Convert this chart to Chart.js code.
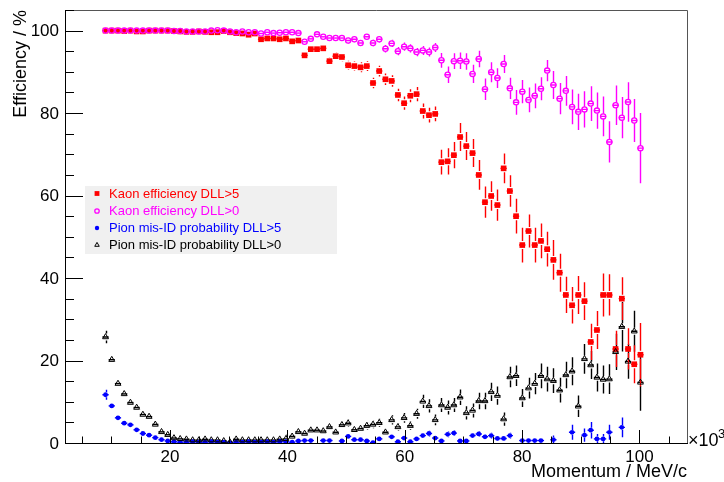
<!DOCTYPE html>
<html>
<head>
<meta charset="utf-8">
<script src="https://cdn.jsdelivr.net/npm/chart.js@4.4.0/dist/chart.umd.min.js"></script>
<style>
  html, body { margin: 0; padding: 0; background: #fff; }
  #wrap { width: 724px; height: 482px; position: relative; }
</style>
</head>
<body>
<div id="wrap"><canvas id="c" width="724" height="482"></canvas></div>
<script>
/* ── DATA ─────────────────────────────────────────────── */
// momentum bins (x 10^3 MeV/c): first bin centre and width
const binFirst = 9.01;
const binWidth = 1.06;

const kaonEffDLL5 = [
  100, 100, 100, 99.9, 100, 99.8, 99.8, 100, 100, 100,
  100, 99.9, 99.8, 99.7, 99.7, 99.8, 99.7, 99.6, 99.6, 99.9,
  99.6, 99.4, 99.3, 99.0, 99.3, 97.9, 98.1, 98.1, 97.9, 98.1,
  97.4, 97.6, 94.0, 95.5, 95.5, 95.7, 92.6, 93.8, 93.6, 91.6,
  91.4, 91.1, 91.4, 87.3, 90.2, 88.2, 87.8, 84.4, 82.4, 84.2,
  84.6, 80.5, 79.5, 79.8, 68.1, 68.3, 69.8, 74.2, 72.0, 70.3,
  65.0, 58.4, 59.9, 57.7, 66.6, 61.1, 55.0, 48.0, 51.4, 48.0,
  49.0, 47.0, 44.4, 41.3, 35.9, 33.4, 35.9, 34.4, 24.5, 27.4,
  35.9, 35.9, 22.8, 35.0, 22.8, 19.1, 21.4
];
const kaonErrDLL5 = [
  0.1, 0.1, 0.1, 0.1, 0.1, 0.1, 0.1, 0.1, 0.1, 0.1,
  0.1, 0.1, 0.1, 0.1, 0.1, 0.1, 0.1, 0.1, 0.1, 0.1,
  0.1, 0.1, 0.1, 0.1, 0.1, 0.3, 0.3, 0.3, 0.3, 0.3,
  0.4, 0.4, 0.8, 0.8, 0.8, 0.8, 1.0, 1.0, 1.0, 1.1,
  1.1, 1.2, 1.2, 1.3, 1.3, 1.4, 1.4, 1.5, 1.6, 1.6,
  1.7, 1.8, 1.8, 1.8, 3.0, 3.2, 3.2, 3.4, 3.4, 3.4,
  3.6, 3.8, 3.6, 3.8, 3.6, 3.8, 4.2, 4.2, 4.0, 4.2,
  4.2, 4.2, 4.8, 4.6, 4.4, 4.4, 4.6, 4.6, 4.4, 4.6,
  5.2, 5.0, 4.4, 5.2, 5.0, 4.6, 7.7
];

const kaonEffDLL0 = [
  100, 100, 100, 100, 100, 100, 100, 100, 100, 100,
  100, 99.9, 99.9, 99.8, 99.8, 99.8, 99.8, 100, 100.1, 100,
  99.8, 99.6, 99.8, 99.6, 99.6, 99.3, 99.6, 99.4, 99.5, 99.6,
  99.6, 99.4, 97.3, 98.0, 99.1, 98.5, 98.2, 98.2, 98.2, 97.6,
  97.9, 97.0, 98.5, 97.0, 97.9, 95.6, 96.9, 95.0, 96.1, 95.7,
  94.8, 95.2, 94.8, 95.9, 92.8, 89.3, 92.6, 92.7, 92.5, 89.5,
  93.1, 85.8, 89.9, 88.5, 91.9, 86.0, 82.6, 85.2, 83.2, 84.2,
  85.9, 90.3, 86.8, 83.5, 85.4, 81.5, 80.3, 80.9, 82.3, 80.6,
  79.2, 73.0, 81.9, 78.9, 82.7, 78.2, 71.5
];
const kaonErrDLL0 = [
  0.1, 0.1, 0.1, 0.1, 0.1, 0.1, 0.1, 0.1, 0.1, 0.1,
  0.1, 0.1, 0.1, 0.1, 0.1, 0.1, 0.1, 0.2, 0.2, 0.2,
  0.2, 0.2, 0.2, 0.2, 0.2, 0.2, 0.2, 0.2, 0.2, 0.2,
  0.2, 0.2, 0.5, 0.5, 0.5, 0.5, 0.6, 0.6, 0.6, 0.7,
  0.7, 0.7, 0.7, 0.8, 0.8, 0.9, 0.9, 1.0, 1.0, 1.0,
  1.0, 1.1, 1.1, 1.1, 1.8, 2.0, 1.9, 2.0, 2.0, 2.2,
  2.0, 2.6, 2.4, 2.4, 2.2, 2.6, 3.0, 2.8, 3.0, 3.0,
  2.8, 2.6, 3.4, 3.8, 3.6, 4.2, 4.4, 4.4, 4.2, 4.4,
  4.8, 5.0, 4.8, 5.0, 4.8, 5.2, 8.5
];

const pionMisDLL5 = [
  11.7, 9.0, 6.1, 4.8, 4.4, 3.2, 2.3, 1.9, 1.3, 0.8,
  0.5, 0.3, 0.2, 0.2, 0.3, 0.2, 0.2, 0.3, 0.2, 0.2,
  0.1, 0.2, 0.2, 0.3, 0.2, 0.2, 0.3, 0.2, 0.3, 0.3,
  0.2, 0.5, 0.6, 0.6, null, 0.6, 0.6, null, 0.5, 1.6,
  0.8, 0.8, 0.5, 0.1, 1.0, null, 1.5, 0.3, 1.2, 0.3,
  1.0, 1.8, 2.3, 1.2, 0.5, 2.1, 2.4, 0.5, 0.5, 1.8,
  2.2, 1.5, 1.8, 1.1, 1.1, 1.8, null, 0.6, 0.6, 0.6,
  0.6, null, 0.8, null, null, 2.6, null, 1.9, 3.1, 1.0,
  1.0, 2.6, null, 3.8, null, null, null
];
const pionErrDLL5 = [
  1.2, 0.4, 0.3, 0.3, 0.3, 0.3, 0.2, 0.2, 0.2, 0.2,
  0.2, 0.1, 0.1, 0.1, 0.1, 0.1, 0.1, 0.1, 0.1, 0.1,
  0.1, 0.1, 0.1, 0.1, 0.1, 0.1, 0.1, 0.1, 0.1, 0.1,
  0.1, 0.3, 0.3, 0.3, 0, 0.3, 0.3, 0, 0.3, 0.4,
  0.3, 0.3, 0.3, 0.3, 0.4, 0, 0.4, 0.3, 0.4, 0.3,
  0.4, 0.6, 0.7, 0.5, 0.4, 0.7, 0.7, 0.4, 0.4, 0.6,
  0.7, 0.6, 0.7, 0.6, 0.6, 0.7, 0, 0.5, 0.5, 0.5,
  0.5, 0, 1.0, 0, 0, 1.8, 0, 1.6, 2.0, 1.2,
  1.2, 1.8, 0, 2.4, 0, 0, 0
];

const pionMisDLL0 = [
  25.7, 20.2, 14.4, 11.9, 9.8, 8.6, 6.9, 6.4, 4.5, 2.7,
  2.0, 1.2, 1.0, 0.9, 0.7, 0.7, 0.9, 0.7, 0.7, 0.5,
  0.2, 0.9, 0.7, 0.7, 0.7, 0.7, 0.7, 0.7, 0.9, 1.0,
  1.6, 2.7, 2.3, 3.1, 3.1, 2.9, 3.9, 2.6, 4.4, 4.8,
  3.2, 3.5, 4.2, 4.5, 4.9, 2.6, 5.6, 3.9, 6.1, 4.2,
  7.1, 10.1, 9.0, 5.6, 9.2, 8.6, 9.2, 11.1, 7.3, 7.9,
  10.2, 10.2, 12.4, 11.5, 5.8, 16.0, 16.3, 10.9, 13.3, 14.4,
  16.3, 15.5, 15.1, 12.8, 16.5, 17.4, 8.9, 20.4, 18.9, 15.9,
  15.4, 15.5, 22.1, 28.2, 19.8, 27.1, 14.7
];
const pionErrDLL0 = [
  1.5, 0.6, 0.5, 0.5, 0.4, 0.4, 0.4, 0.4, 0.3, 0.3,
  0.3, 0.2, 0.2, 0.2, 0.2, 0.2, 0.2, 0.2, 0.2, 0.2,
  0.2, 0.2, 0.2, 0.2, 0.2, 0.2, 0.2, 0.2, 0.2, 1.0,
  0.4, 0.6, 0.6, 0.7, 0.7, 0.7, 0.8, 0.7, 0.8, 0.9,
  0.8, 0.8, 0.9, 0.9, 1.0, 0.8, 1.1, 0.9, 1.2, 1.0,
  1.2, 1.6, 1.6, 1.3, 1.7, 1.7, 1.7, 1.9, 1.6, 1.7,
  2.0, 2.0, 2.2, 2.2, 1.6, 2.5, 2.5, 2.2, 2.5, 2.6,
  3.0, 3.0, 3.0, 3.0, 3.2, 3.4, 2.6, 3.6, 3.4, 3.4,
  3.4, 3.6, 4.4, 6.0, 4.2, 5.0, 6.9
];

const legendLabels = [
  'Kaon efficiency DLL>5',
  'Kaon efficiency DLL>0',
  'Pion mis-ID probability DLL>5',
  'Pion mis-ID probability DLL>0'
];
const xTickLabels = [20, 40, 60, 80, 100];
const yTickLabels = [0, 20, 40, 60, 80, 100];

/* ── HELPERS ──────────────────────────────────────────── */
const FONT = '"Liberation Sans", Arial, sans-serif';

function toPoints(vals, errs) {
  const out = [];
  vals.forEach((v, i) => {
    if (v === null) return;
    out.push({ x: binFirst + binWidth * i, y: v, e: errs[i] });
  });
  return out;
}

// error bars, drawn under the markers
const errorBars = {
  id: 'errorBars',
  beforeDatasetsDraw(chart) {
    const { ctx, chartArea, scales: { x, y } } = chart;
    ctx.save();
    ctx.beginPath();
    ctx.rect(chartArea.left, chartArea.top, chartArea.right - chartArea.left, chartArea.bottom - chartArea.top);
    ctx.clip();
    chart.data.datasets.forEach(ds => {
      ctx.strokeStyle = ds.barColor;
      ctx.lineWidth = 1.4;
      const gap = ds.pointRadius;
      ds.data.forEach(p => {
        const px = Math.round(x.getPixelForValue(p.x)) + 0.5;
        const py = y.getPixelForValue(p.y);
        const top = y.getPixelForValue(p.y + p.e);
        const bot = y.getPixelForValue(p.y - p.e);
        ctx.beginPath();
        if (py - top > gap) { ctx.moveTo(px, top); ctx.lineTo(px, py - gap); }
        if (bot - py > gap) { ctx.moveTo(px, py + gap); ctx.lineTo(px, bot); }
        const xl = x.getPixelForValue(p.x - binWidth / 2);
        const xr = x.getPixelForValue(p.x + binWidth / 2);
        ctx.moveTo(xl, py); ctx.lineTo(xr, py);
        ctx.stroke();
      });
    });
    ctx.restore();
  }
};

// ROOT style frame, inward ticks, titles and legend box
const rootFrame = {
  id: 'rootFrame',
  afterDraw(chart) {
    const { ctx, chartArea: a, scales: { x, y } } = chart;
    ctx.save();

    // frame
    ctx.strokeStyle = '#555';
    ctx.lineWidth = 1;
    ctx.beginPath();
    ctx.moveTo(a.left, a.top + 0.5); ctx.lineTo(a.right + 0.5, a.top + 0.5); ctx.lineTo(a.right + 0.5, a.bottom);
    ctx.stroke();
    ctx.strokeStyle = '#000';
    ctx.beginPath();
    ctx.moveTo(a.left + 0.5, a.top); ctx.lineTo(a.left + 0.5, a.bottom + 0.5); ctx.lineTo(a.right + 1, a.bottom + 0.5);
    ctx.stroke();

    // y ticks
    ctx.beginPath();
    for (let v = 0; v <= 105; v += 5) {
      const py = Math.round(y.getPixelForValue(v)) + 0.5;
      const len = v % 20 === 0 ? 18 : 9;
      ctx.moveTo(a.left, py); ctx.lineTo(a.left + len, py);
    }
    // x ticks
    for (let v = 5; v <= 105; v += 5) {
      const px = Math.round(x.getPixelForValue(v)) + 0.5;
      const len = v % 20 === 0 ? 13 : 6.5;
      ctx.moveTo(px, a.bottom); ctx.lineTo(px, a.bottom - len);
    }
    ctx.stroke();

    ctx.fillStyle = '#000';
    ctx.font = '17px ' + FONT;
    ctx.textAlign = 'right';
    ctx.textBaseline = 'middle';
    yTickLabels.forEach(v => ctx.fillText(String(v), a.left - 6, y.getPixelForValue(v) + 1));
    ctx.textAlign = 'center';
    ctx.textBaseline = 'top';
    xTickLabels.forEach(v => ctx.fillText(String(v), x.getPixelForValue(v), a.bottom + 6));

    // exponent
    ctx.textAlign = 'left';
    ctx.textBaseline = 'alphabetic';
    ctx.font = '18px ' + FONT;
    ctx.fillText('\u00d710', a.right + 1, a.bottom + 3);
    ctx.font = '13px ' + FONT;
    ctx.fillText('3', a.right + 31, a.bottom - 5);

    // axis titles
    ctx.font = '18px ' + FONT;
    ctx.textAlign = 'right';
    ctx.fillText('Momentum / MeV/c', a.right, 477);
    ctx.save();
    ctx.translate(26, 10);
    ctx.rotate(-Math.PI / 2);
    ctx.textAlign = 'right';
    ctx.fillText('Efficiency / %', 0, 0);
    ctx.restore();

    // legend
    ctx.fillStyle = '#f0f0f0';
    ctx.fillRect(85, 186, 252, 68);
    ctx.font = '13px ' + FONT;
    ctx.textAlign = 'left';
    ctx.textBaseline = 'middle';
    const rowY = [193.5, 211, 228, 245];
    chart.data.datasets.slice().sort((p, q) => p.legendIndex - q.legendIndex).forEach((ds, k) => {
      ctx.fillStyle = ds.backgroundColor;
      ctx.strokeStyle = ds.borderColor;
      ctx.lineWidth = ds.pointBorderWidth || 1;
      Chart.helpers.drawPoint(ctx, {
        pointStyle: ds.pointStyle,
        radius: ds.legendRadius,
        borderWidth: ds.pointBorderWidth,
        rotation: 0
      }, 97, rowY[k]);
      ctx.fillStyle = ds.barColor;
      ctx.fillText(legendLabels[ds.legendIndex], 109, rowY[k] + 0.5);
    });
    ctx.restore();
  }
};

/* ── CHART ────────────────────────────────────────────── */
const datasets = [
  {
    label: legendLabels[3], legendIndex: 3,
    data: toPoints(pionMisDLL0, pionErrDLL0),
    pointStyle: 'triangle', pointRadius: 3.4, pointBorderWidth: 1,
    borderColor: '#000', backgroundColor: 'rgba(255,255,255,0)', barColor: '#000', legendRadius: 2.6
  },
  {
    label: legendLabels[2], legendIndex: 2,
    data: toPoints(pionMisDLL5, pionErrDLL5),
    pointStyle: 'circle', pointRadius: 2.4, pointBorderWidth: 0,
    borderColor: '#0000ff', backgroundColor: '#0000ff', barColor: '#0000ff', legendRadius: 2.2
  },
  {
    label: legendLabels[1], legendIndex: 1,
    data: toPoints(kaonEffDLL0, kaonErrDLL0),
    pointStyle: 'circle', pointRadius: 2.6, pointBorderWidth: 1.3,
    borderColor: '#ff00ff', backgroundColor: 'rgba(255,255,255,0)', barColor: '#ff00ff', legendRadius: 2.2
  },
  {
    label: legendLabels[0], legendIndex: 0,
    data: toPoints(kaonEffDLL5, kaonErrDLL5),
    pointStyle: 'rect', pointRadius: 4, pointBorderWidth: 0,
    borderColor: '#ff0000', backgroundColor: '#ff0000', barColor: '#ff0000', legendRadius: 3.4
  }
];

new Chart(document.getElementById('c'), {
  type: 'scatter',
  data: { datasets },
  options: {
    responsive: false,
    animation: false,
    devicePixelRatio: 1,
    layout: { padding: { left: 65, right: 37, top: 10, bottom: 39 } },
    plugins: { legend: { display: false }, tooltip: { enabled: false } },
    elements: { point: { hoverRadius: 3 } },
    scales: {
      x: { type: 'linear', display: false, min: 2.1, max: 108.1 },
      y: { type: 'linear', display: false, min: 0, max: 105 }
    }
  },
  plugins: [errorBars, rootFrame]
});
</script>
</body>
</html>
